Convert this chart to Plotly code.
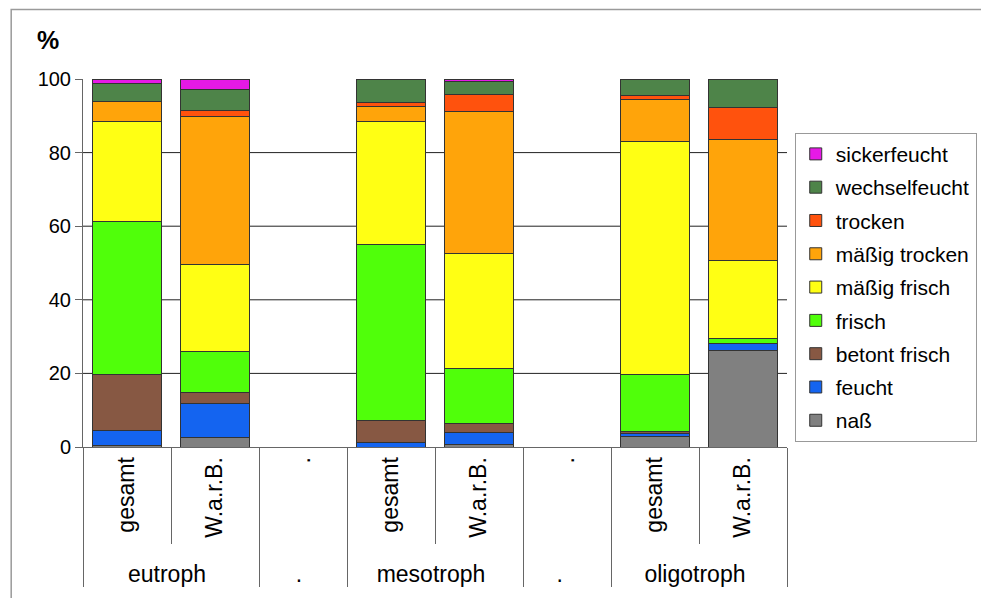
import plotly.graph_objects as go

# categories (outer group / inner label)
groups = ["eutroph", "eutroph", ".", "mesotroph", "mesotroph", ". ", "oligotroph", "oligotroph"]
cats = ["gesamt", "W.a.r.B.", ".", "gesamt", "W.a.r.B.", ".", "gesamt", "W.a.r.B."]

# shares in % per moisture class (bottom to top of the stack)
nass = [0.4, 2.5, None, 0, 0.7, None, 2.8, 26.3]
feucht = [4.0, 9.2, None, 1.2, 3.2, None, 1.0, 1.9]
betont_frisch = [15.4, 3.2, None, 6.1, 2.4, None, 0.5, 0]
frisch = [41.6, 11.0, None, 47.6, 14.9, None, 15.5, 1.3]
maessig_frisch = [27.0, 23.7, None, 33.6, 31.5, None, 63.1, 21.1]
maessig_trocken = [5.6, 40.2, None, 4.0, 38.5, None, 11.4, 32.9]
trocken = [0, 1.6, None, 1.1, 4.7, None, 1.1, 8.8]
wechselfeucht = [4.7, 5.8, None, 6.4, 3.5, None, 4.6, 7.7]
sickerfeucht = [1.2, 2.8, None, 0, 0.6, None, 0, 0]

series = [
    ("naß", nass, "#808080"),
    ("feucht", feucht, "#1464F0"),
    ("betont frisch", betont_frisch, "#875843"),
    ("frisch", frisch, "#50FF0A"),
    ("mäßig frisch", maessig_frisch, "#FFFF14"),
    ("mäßig trocken", maessig_trocken, "#FFA40A"),
    ("trocken", trocken, "#FF520D"),
    ("wechselfeucht", wechselfeucht, "#4E8449"),
    ("sickerfeucht", sickerfeucht, "#E619E6"),
]

font = "Liberation Sans, Arial, sans-serif"

fig = go.Figure()
for i, (name, vals, col) in enumerate(series):
    fig.add_trace(go.Bar(
        x=[groups, cats], y=vals, name=name, legendgroup=name,
        legendrank=100 - i,
        marker=dict(color=col, line=dict(color="#333333", width=1)),
    ))

# horizontal gridlines behind the bars
for g in [20, 40, 60, 80]:
    fig.add_shape(type="line", xref="paper", yref="y", x0=0, x1=1, y0=g, y1=g,
                  line=dict(color="#222222", width=1), layer="below")

# outer frame of the picture
fig.add_shape(type="rect", xref="paper", yref="paper",
              x0=-0.102, x1=1.3, y0=-0.5, y1=1.189,
              line=dict(color="#9a9a9a", width=1.5), layer="below")

fig.add_annotation(text="<b>%</b>", xref="paper", yref="paper", x=-0.05, y=1.105,
                   xanchor="center", yanchor="middle",
                   showarrow=False, font=dict(size=25, color="black", family=font))

fig.update_layout(
    width=981, height=590,
    margin=dict(l=75, r=182, t=71, b=149),
    barmode="stack", bargap=0.227,
    plot_bgcolor="white", paper_bgcolor="white",
    font=dict(family=font, size=20, color="black"),
    legend=dict(
        x=1.011, y=0.854, xanchor="left", yanchor="top",
        traceorder="grouped", tracegroupgap=3,
        bordercolor="#999999", borderwidth=1, bgcolor="white",
        font=dict(size=21), itemwidth=30,
    ),
    xaxis=dict(
        type="multicategory", tickangle=-90,
        ticks="outside", tickson="boundaries", ticklen=96, tickcolor="#666666",
        showdividers=True, dividercolor="#666666", dividerwidth=1,
        showline=True, linecolor="#666666", linewidth=1,
        showgrid=False, tickfont=dict(size=23),
    ),
    yaxis=dict(
        range=[0, 100], tickvals=[0, 20, 40, 60, 80, 100], ticksuffix=" ",
        ticks="outside", ticklen=7, tickcolor="#666666",
        showline=True, linecolor="#666666", linewidth=1,
        showgrid=False, zeroline=False, tickfont=dict(size=20),
    ),
)

fig.write_html("out.html")
